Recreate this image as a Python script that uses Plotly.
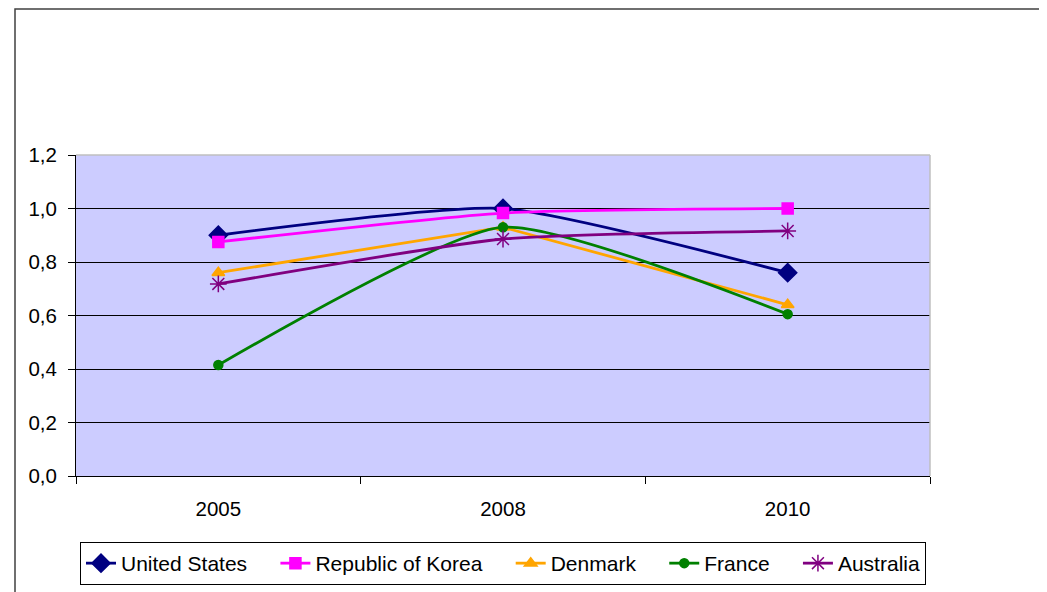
import plotly.graph_objects as go

years = ["2005", "2008", "2010"]
us = [0.90, 1.00, 0.76]
korea = [0.875, 0.983, 1.00]
denmark = [0.76, 0.93, 0.64]
france = [0.415, 0.93, 0.605]
australia = [0.718, 0.886, 0.916]

PAD = "\u00a0" * 4
series = [
    ("United States", us, "#000080", "diamond", 14, "spline", PAD),
    ("Republic of Korea", korea, "#FF00FF", "square", 11, "spline", PAD),
    ("Denmark", denmark, "#FFA500", "triangle-up", 11, "linear", PAD),
    ("France", france, "#008000", "circle", 9, "spline", PAD),
    ("Australia", australia, "#800080", "asterisk-open", 14, "spline", ""),
]

fig = go.Figure()
for name, vals, col, sym, sz, shape, pad in series:
    fig.add_trace(go.Scatter(
        x=years, y=vals, name=name + pad, mode="lines+markers",
        line=dict(color=col, width=2.8, shape=shape, smoothing=0.55),
        marker=dict(symbol=sym, size=sz, color=col, line=dict(color=col, width=1.5)),
    ))

W, H = 1039, 584          # page body has an 8px margin
L, T = 68, 147
pw, ph = 854, 321
R, B = W - L - pw, H - T - ph

fig.update_layout(
    width=W, height=H,
    margin=dict(l=L, r=R, t=T, b=B, pad=0, autoexpand=False),
    paper_bgcolor="white", plot_bgcolor="#CCCCFF",
    separators=",.",
    font=dict(family="Liberation Sans, Arial, sans-serif", size=20.5, color="black"),
    showlegend=True,
    legend=dict(orientation="h", x=0.5, xanchor="center", y=(476 - 542) / ph, yanchor="top",
                bordercolor="black", borderwidth=1, font=dict(size=21),
                itemwidth=30, tracegroupgap=0),
    xaxis=dict(type="category", range=[-0.5, 2.5], showgrid=False, showline=True,
               linecolor="black", linewidth=1, ticks="outside", ticklen=7,
               tickcolor="black", tickson="boundaries", zeroline=False,
               ticklabelstandoff=14, tickfont=dict(size=20.5)),
    yaxis=dict(range=[0, 1.2], dtick=0.2, tickformat=".1f", showgrid=True,
               gridcolor="black", gridwidth=1, showline=True, linecolor="black",
               linewidth=1, ticks="outside", ticklen=7, tickcolor="black",
               zeroline=False, ticklabelstandoff=7, tickfont=dict(size=20.5)),
    shapes=[
        dict(type="line", xref="paper", yref="paper", x0=0, x1=1, y0=1, y1=1,
             line=dict(color="#BFBFBF", width=1.5)),
        dict(type="line", xref="paper", yref="paper", x0=1, x1=1, y0=0, y1=1,
             line=dict(color="#BFBFBF", width=1.5)),
        dict(type="rect", xref="paper", yref="paper",
             x0=(7 - L) / pw, x1=1.5, y0=-1.0, y1=(T + ph - 1) / ph,
             line=dict(color="#404040", width=1.5), fillcolor="rgba(0,0,0,0)"),
    ],
)

fig.write_html("out.html")
